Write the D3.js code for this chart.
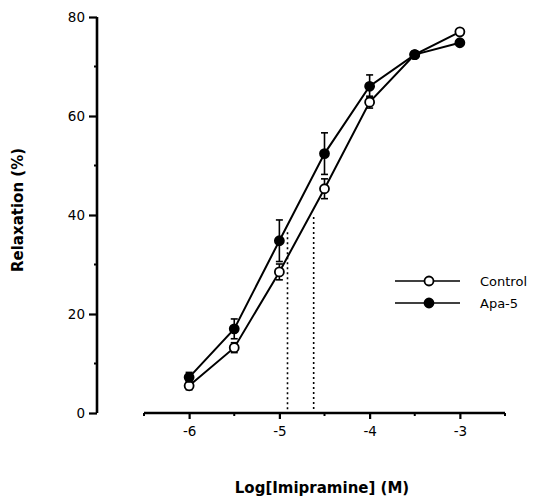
<!DOCTYPE html>
<html>
<head>
<meta charset="utf-8">
<script src="https://cdn.jsdelivr.net/npm/d3@7"></script>
<style>
  body { margin: 0; background: #fff; }
  svg { display: block; font-family: "DejaVu Sans", Verdana, sans-serif; }
</style>
</head>
<body>
<div id="chart"></div>
<script>
// log molar concentrations
const logConc = [-6, -5.5, -5, -4.5, -4, -3.5, -3];
const controlMean = [5.5, 13.2, 28.5, 45.3, 62.8, 72.4, 77.0];
const controlSem = [0.8, 1.0, 1.6, 2.0, 1.2, 0.5, 0.5];
const apaMean = [7.2, 17.0, 34.8, 52.4, 66.0, 72.4, 74.8];
const apaSem = [1.0, 2.0, 4.2, 4.2, 2.3, 0.5, 0.5];
// EC50 drop lines: [logConc, relaxation]
const ec50Apa = [-4.91, 36.5];
const ec50Control = [-4.62, 39.6];
const yTicks = [0, 20, 40, 60, 80];
const yMinor = [10, 30, 50, 70];
const xTicks = [-6, -5, -4, -3];
const xMinor = [-6.5, -5.5, -4.5, -3.5, -2.5];

const width = 534, height = 497;
const svg = d3.select("#chart").append("svg")
  .attr("width", width)
  .attr("height", height);

const x = d3.scaleLinear().domain([-6.5, -2.5]).range([144, 505]);
const y = d3.scaleLinear().domain([0, 80]).range([413, 17]);
const axisX = 97;

// y axis
const yAxis = svg.append("g")
  .attr("transform", `translate(${axisX},0)`)
  .call(d3.axisLeft(y).tickValues(yTicks).tickSize(8).tickPadding(4).tickFormat(d3.format("d")));
yAxis.select(".domain").attr("d", `M0,${y(0)}V${y(80)}`).attr("stroke-width", 2.6);
yAxis.selectAll(".tick line").attr("stroke-width", 2.2);
yAxis.selectAll(".tick text").attr("font-size", 13.5).attr("fill", "#000")
  .attr("font-family", "DejaVu Sans");
svg.append("g").selectAll("line").data(yMinor).join("line")
  .attr("x1", axisX - 3).attr("x2", axisX)
  .attr("y1", d => y(d)).attr("y2", d => y(d))
  .attr("stroke", "#000").attr("stroke-width", 2);

// x axis
const xAxis = svg.append("g")
  .attr("transform", `translate(0,${y(0)})`)
  .call(d3.axisBottom(x).tickValues(xTicks).tickSize(6).tickPadding(7).tickFormat(d3.format("d")));
xAxis.select(".domain").attr("d", `M${x(-6.5)},0H${x(-2.5)}`).attr("stroke-width", 2.6);
xAxis.selectAll(".tick line").attr("stroke-width", 2.2);
xAxis.selectAll(".tick text").attr("font-size", 13.5).attr("fill", "#000")
  .attr("font-family", "DejaVu Sans")
  .text(d => "-" + Math.abs(d));
svg.append("g").selectAll("line").data(xMinor).join("line")
  .attr("x1", d => x(d)).attr("x2", d => x(d))
  .attr("y1", y(0)).attr("y2", y(0) + 3)
  .attr("stroke", "#000").attr("stroke-width", 2);

// axis titles
svg.append("text")
  .attr("transform", `translate(23,210) rotate(-90)`)
  .attr("text-anchor", "middle")
  .attr("font-size", 15).attr("font-weight", "bold")
  .text("Relaxation (%)");
svg.append("text")
  .attr("x", 322).attr("y", 493)
  .attr("text-anchor", "middle")
  .attr("font-size", 15).attr("font-weight", "bold")
  .text("Log[Imipramine] (M)");

// EC50 dotted lines
svg.append("g").selectAll("line").data([ec50Apa, ec50Control]).join("line")
  .attr("x1", d => x(d[0])).attr("x2", d => x(d[0]))
  .attr("y1", d => y(d[1])).attr("y2", y(0))
  .attr("stroke", "#000").attr("stroke-width", 1.6)
  .attr("stroke-dasharray", "2,3");

const line = d3.line().x((d, i) => x(logConc[i])).y(d => y(d));

const series = [
  { name: "Control", mean: controlMean, sem: controlSem, fill: "#fff" },
  { name: "Apa-5", mean: apaMean, sem: apaSem, fill: "#000" }
];

series.forEach(s => {
  svg.append("path")
    .attr("d", line(s.mean))
    .attr("fill", "none").attr("stroke", "#000").attr("stroke-width", 2);
});

series.forEach(s => {
  const g = svg.append("g");
  logConc.forEach((c, i) => {
    const top = y(s.mean[i] + s.sem[i]), bot = y(s.mean[i] - s.sem[i]);
    g.append("line")
      .attr("x1", x(c)).attr("x2", x(c)).attr("y1", top).attr("y2", bot)
      .attr("stroke", "#000").attr("stroke-width", 1.6);
    [top, bot].forEach(yy => g.append("line")
      .attr("x1", x(c) - 3.5).attr("x2", x(c) + 3.5).attr("y1", yy).attr("y2", yy)
      .attr("stroke", "#000").attr("stroke-width", 1.6));
  });
});

series.forEach(s => {
  svg.append("g").selectAll("circle").data(s.mean).join("circle")
    .attr("cx", (d, i) => x(logConc[i]))
    .attr("cy", d => y(d))
    .attr("r", 4.5)
    .attr("fill", s.fill).attr("stroke", "#000").attr("stroke-width", 1.8);
});

// legend
const legend = svg.append("g");
series.forEach((s, i) => {
  const ly = 281 + i * 22;
  legend.append("line")
    .attr("x1", 395).attr("x2", 460).attr("y1", ly).attr("y2", ly)
    .attr("stroke", "#000").attr("stroke-width", 1.6);
  legend.append("circle")
    .attr("cx", 429).attr("cy", ly).attr("r", 4.5)
    .attr("fill", s.fill).attr("stroke", "#000").attr("stroke-width", 1.8);
  legend.append("text")
    .attr("x", 480).attr("y", ly + 4.5)
    .attr("font-size", 13)
    .text(s.name);
});
</script>
</body>
</html>
